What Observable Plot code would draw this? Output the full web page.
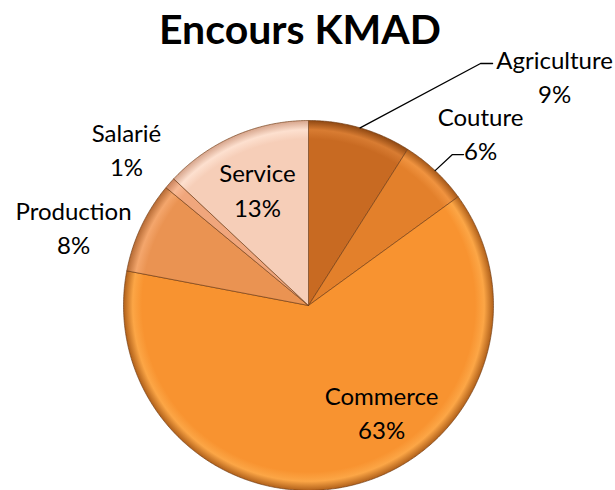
<!DOCTYPE html>
<html><head><meta charset="utf-8">
<script src="https://cdn.jsdelivr.net/npm/d3@7"></script>
<script src="https://cdn.jsdelivr.net/npm/@observablehq/plot@0.6"></script>
<style>body{margin:0;background:#fff;}</style>
</head><body><div id="chart"></div>
<script>
// ---- data ----
const chartTitle = "Encours KMAD";
const categories = ["Agriculture", "Couture", "Commerce", "Production", "Salarié", "Service"];
const shares = [9, 6, 63, 8, 1, 13];
const shareLabels = ["9%", "6%", "63%", "8%", "1%", "13%"];

// ---- style / layout ----
const baseColors = ["#c86a22", "#e3802b", "#f89330", "#ea9352", "#f0a67c", "#f6ceb8"];
const rimColors  = ["#8f4812", "#a65818", "#b0601a", "#b56a34", "#c9825c", "#d6a48b"];
const lightColors = ["#d87c32", "#f0933f", "#fca646", "#f4a66c", "#f8b994", "#fde0cf"];
const W = 615, H = 490, CX = 308, CY = 305, R = 185;
// label block centres, in pie-radius units (x right, y up from the centre)
const labelPos = [[1.330, 1.243], [0.930, 0.935], [0.395, -0.573], [-1.270, 0.427], [-0.984, 0.849], [-0.276, 0.632]];
// leader elbows for the outside labels
const leaderBends = {Agriculture: [[0.930, 1.308], [0.995, 1.308]], Couture: [[0.778, 0.816], [0.838, 0.816]]};

const rows = categories.map((c, i) => ({cat: c, share: shares[i], label: shareLabels[i], i}));
const arcs = d3.pie().sort(null).value(d => d.share)(rows);

const slices = arcs.map(a => {
  const pts = [{x: 0, y: 0}];
  const n = Math.max(2, Math.ceil((a.endAngle - a.startAngle) / (Math.PI / 360)));
  for (let k = 0; k <= n; k++) {
    const t = a.startAngle + (a.endAngle - a.startAngle) * k / n;
    pts.push({x: Math.sin(t), y: Math.cos(t)});
  }
  pts.push({x: 0, y: 0});
  return {row: a.data, pts, mid: (a.startAngle + a.endAngle) / 2};
});

const labels = rows.map((r, i) => ({text: r.cat + "\n" + r.label, x: labelPos[i][0], y: labelPos[i][1]}));
const leaders = [];
slices.forEach(s => {
  const b = leaderBends[s.row.cat];
  if (!b) return;
  leaders.push({cat: s.row.cat, x: Math.sin(s.mid), y: Math.cos(s.mid)});
  b.forEach(p => leaders.push({cat: s.row.cat, x: p[0], y: p[1]}));
});

const marks = [];
slices.forEach((s, i) => {
  marks.push(Plot.line(s.pts, {x: "x", y: "y", fill: `url(#sg${i})`, stroke: "#6e3a12", strokeOpacity: 0.7, strokeWidth: 0.9, curve: "linear"}));
});
marks.push(Plot.line(leaders, {x: "x", y: "y", z: "cat", stroke: "#000", strokeWidth: 1.3}));
marks.push(Plot.text(labels, {x: "x", y: "y", text: "text", fontSize: 24, lineHeight: 1.42, fill: "#000"}));
marks.push(Plot.text([chartTitle], {frameAnchor: "top", dx: -8, dy: 14, fontSize: 41, fontWeight: "bold", lineAnchor: "top", fill: "#000"}));

const plot = Plot.plot({
  width: W, height: H,
  margin: 0,
  x: {domain: [-CX / R, (W - CX) / R], axis: null},
  y: {domain: [-(H - CY) / R, CY / R], axis: null},
  style: {fontFamily: "Lato, 'Open Sans', sans-serif", background: "#fff", overflow: "visible"},
  marks
});

const cxp = plot.scale("x").apply(0), cyp = plot.scale("y").apply(0);
const defs = d3.select(plot).insert("defs", ":first-child");
baseColors.forEach((c, i) => {
  const g = defs.append("radialGradient").attr("id", `sg${i}`).attr("gradientUnits", "userSpaceOnUse")
    .attr("cx", cxp).attr("cy", cyp).attr("r", R);
  g.append("stop").attr("offset", "0").attr("stop-color", baseColors[i]);
  g.append("stop").attr("offset", "0.9").attr("stop-color", baseColors[i]);
  g.append("stop").attr("offset", "0.95").attr("stop-color", lightColors[i]);
  g.append("stop").attr("offset", "1").attr("stop-color", rimColors[i]);
});
document.getElementById("chart").append(plot);
</script>
</body></html>
